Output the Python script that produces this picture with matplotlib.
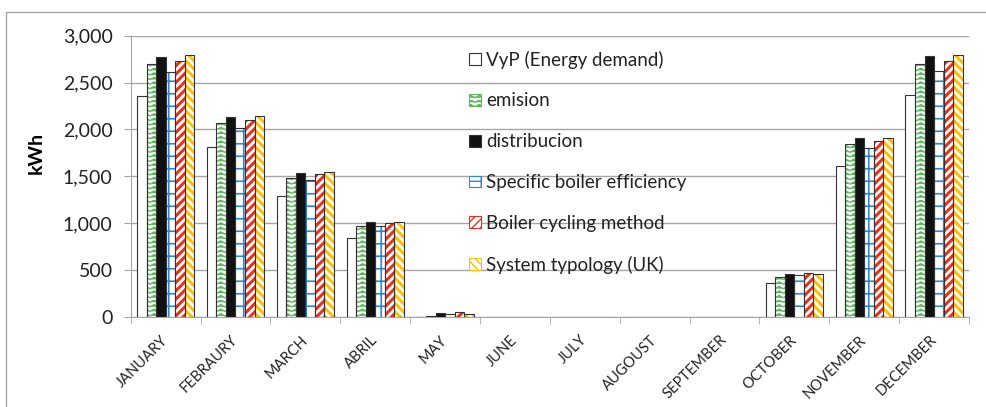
# monthly energy per calculation method - grouped bar chart with excel-like patterns
import warnings
import numpy as np
import matplotlib
matplotlib.use('Agg')
import matplotlib.pyplot as plt
from matplotlib import hatch as mhatch
from matplotlib.path import Path
from matplotlib.patches import Patch, Rectangle
from matplotlib.ticker import FuncFormatter
from matplotlib.transforms import ScaledTranslation

warnings.filterwarnings('ignore')

months = ['JANUARY', 'FEBRAURY', 'MARCH', 'ABRIL', 'MAY', 'JUNE', 'JULY',
          'AUGOUST', 'SEPTEMBER', 'OCTOBER', 'NOVEMBER', 'DECEMBER']

vyp = [2360, 1808, 1292, 840, 0, 0, 0, 0, 0, 366, 1609, 2363]
emision = [2698, 2068, 1481, 968, 10, 0, 0, 0, 0, 424, 1840, 2701]
distribucion = [2776, 2128, 1541, 1011, 40, 0, 0, 0, 0, 456, 1907, 2783]
specific = [2612, 2011, 1459, 968, 30, 0, 0, 0, 0, 445, 1800, 2619]
cycling = [2730, 2103, 1523, 1007, 55, 0, 0, 0, 0, 466, 1875, 2730]
typology = [2794, 2146, 1551, 1018, 35, 0, 0, 0, 0, 456, 1914, 2797]

series_names = ['VyP (Energy demand)', 'emision', 'distribucion',
                'Specific boiler efficiency', 'Boiler cycling method',
                'System typology (UK)']


# zigzag hatch (excel "zigzag" pattern) registered under the letter 'z'
class ZigzagHatch(mhatch.HatchPatternBase):
    def __init__(self, hatch, density):
        self.rows = hatch.count('z') * 22
        self.teeth = 12
        self.num_vertices = self.rows * (2 * self.teeth + 1)

    def set_vertices_and_codes(self, vertices, codes):
        n = 2 * self.teeth + 1
        xs = np.linspace(0, 1, n)
        dy = 0.5 / self.rows
        for r in range(self.rows):
            y0 = (r + 0.5) / self.rows
            ys = y0 + np.where(np.arange(n) % 2 == 0, 0, dy)
            vertices[r * n:(r + 1) * n, 0] = xs
            vertices[r * n:(r + 1) * n, 1] = ys
            codes[r * n] = Path.MOVETO
            codes[r * n + 1:(r + 1) * n] = Path.LINETO


# wide grid (excel "large grid") registered under the letter 'g'
class GridHatch(mhatch.HatchPatternBase):
    def __init__(self, hatch, density):
        self.n = hatch.count('g') * 8
        self.num_vertices = self.n * 4

    def set_vertices_and_codes(self, vertices, codes):
        steps = (np.arange(self.n) + 0.5) / self.n
        m = self.n * 2
        vertices[0:m:2, 0] = 0.0
        vertices[0:m:2, 1] = steps
        vertices[1:m:2, 0] = 1.0
        vertices[1:m:2, 1] = steps
        vertices[m::2, 0] = steps
        vertices[m::2, 1] = 0.0
        vertices[m + 1::2, 0] = steps
        vertices[m + 1::2, 1] = 1.0
        codes[0::2] = Path.MOVETO
        codes[1::2] = Path.LINETO


mhatch._hatch_types.append(ZigzagHatch)
mhatch._hatch_types.append(GridHatch)

styles = [
    dict(color='white', hatch=None, hcolor='#404040', hlw=0.8),
    dict(color='white', hatch='z', hcolor='#5cb85c', hlw=0.9),
    dict(color='#111111', hatch=None, hcolor='#111111', hlw=0.8),
    dict(color='white', hatch='g', hcolor='#2e86d1', hlw=1.2),
    dict(color='white', hatch='////', hcolor='#e8321e', hlw=2.2),
    dict(color='white', hatch='\\\\\\\\', hcolor='#ffc000', hlw=2.2),
]
all_series = [vyp, emision, distribucion, specific, cycling, typology]

plt.rcParams['font.family'] = ['Lato', 'DejaVu Sans']

fig = plt.figure(figsize=(9.87, 4.07), dpi=100)
ax = fig.add_axes([0.1324, 0.2211, 0.8494, 0.6912])

x = np.arange(len(months))
w = 0.82 / 6
for i, (vals, st) in enumerate(zip(all_series, styles)):
    pos = x + (i - 2.5) * w
    bars = ax.bar(pos, vals, w, color=st['color'], edgecolor=st['hcolor'],
                  hatch=st['hatch'], linewidth=0, zorder=2)
    for b in bars:
        if hasattr(b, 'set_hatch_linewidth'):
            b.set_hatch_linewidth(st['hlw'])
    ax.bar(pos, vals, w, fill=False, edgecolor='#333333', linewidth=0.8, zorder=3)

ax.set_xlim(-0.5, 11.5)
ax.set_ylim(0, 3000)
ax.set_yticks(np.arange(0, 3001, 500))
ax.yaxis.set_major_formatter(FuncFormatter(lambda v, p: f'{int(v):,}'))
ax.grid(axis='y', color='#a6a6a6', linewidth=1, zorder=0)
ax.set_axisbelow(True)

ax.set_xticks(x)
ax.set_xticklabels(months, rotation=45, ha='right', va='center',
                   rotation_mode='anchor', fontsize=10.5, color='#222222')
shift = ScaledTranslation(3 / 100, 0, fig.dpi_scale_trans)
for lbl in ax.get_xticklabels():
    lbl.set_transform(lbl.get_transform() + shift)
ax.set_xticks(np.arange(-0.5, 12, 1), minor=True)
ax.tick_params(axis='x', which='major', length=0, pad=15)
ax.tick_params(axis='x', which='minor', length=5, color='#a6a6a6')
ax.tick_params(axis='y', length=5, color='#a6a6a6', labelsize=14,
               labelcolor='#222222', pad=8)

for s in ['top', 'right']:
    ax.spines[s].set_visible(False)
for s in ['left', 'bottom']:
    ax.spines[s].set_color('#a6a6a6')

ax.set_ylabel('kWh', fontsize=14, fontweight='bold')
ax.yaxis.set_label_coords(-0.102, 0.584)

handles = []
for name, st in zip(series_names, styles):
    handles.append(Patch(facecolor=st['color'], edgecolor=st['hcolor'] if st['hatch'] else '#333333',
                         hatch=st['hatch'], linewidth=0.8, label=name))
leg = ax.legend(handles=handles, loc='upper left', bbox_to_anchor=(0.384, 1.007),
                frameon=False, fontsize=13.5, labelspacing=1.27, handlelength=0.6,
                handleheight=0.6, handletextpad=0.3)
for t in leg.get_texts():
    t.set_color('#222222')

# outer chart border
fig.patches.append(Rectangle((6 / 987, -0.05), 1.0, (407 - 12) / 407 + 0.05,
                             fill=False, edgecolor='#a6a6a6', linewidth=1,
                             transform=fig.transFigure, figure=fig))

fig.savefig('out.png', dpi=100)
